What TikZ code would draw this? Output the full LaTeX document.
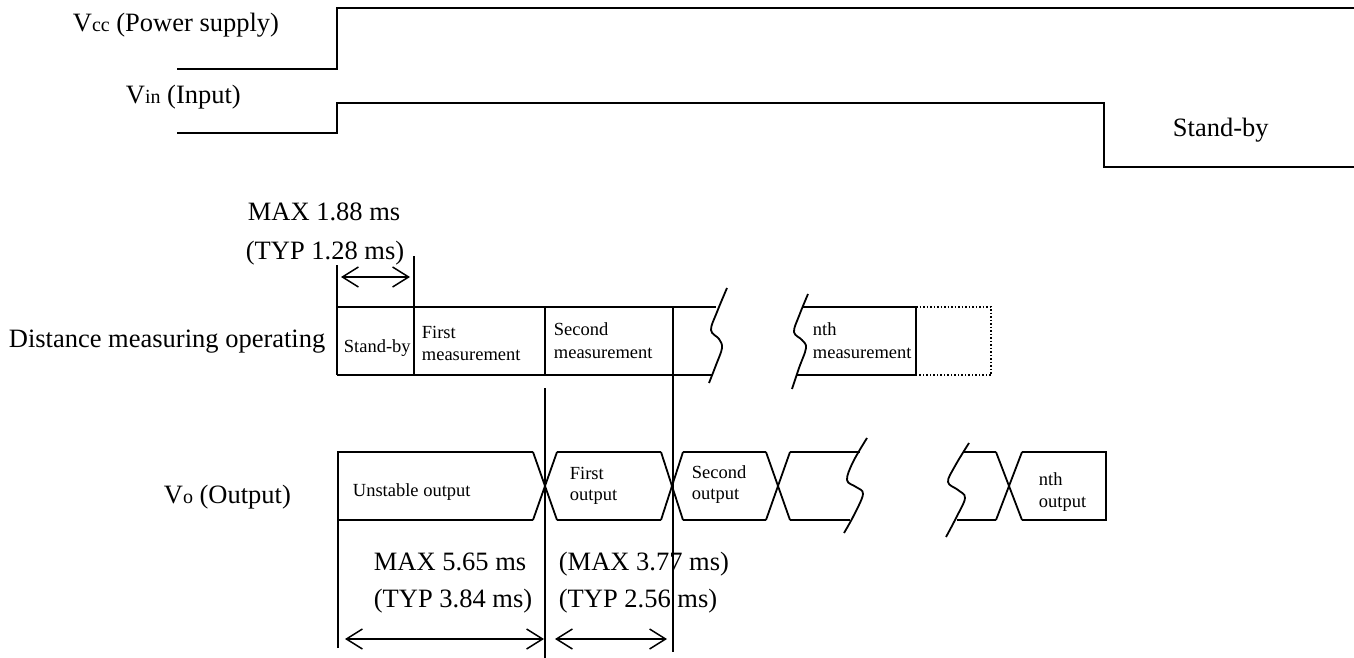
\documentclass[tikz,border=0pt]{standalone}
\usepackage{fontspec}
\setmainfont{Liberation Serif}
\usetikzlibrary{arrows.meta}
\begin{document}
\begin{tikzpicture}[x=1pt,y=-1pt,line width=1.8pt,
  big/.style={anchor=base west,inner sep=0pt,font=\fontsize{26.5}{26.5}\selectfont},
  small/.style={anchor=base west,inner sep=0pt,font=\fontsize{18.5}{18.5}\selectfont},
  tip/.tip={Straight Barb[length=16pt,width=20pt,line width=1.5pt]},
  dimarrow/.style={line width=1.5pt,tip-tip},
  dottedbox/.style={line width=1.5pt,dotted}]
\useasboundingbox (0,0) rectangle (1354,658);
\newcommand{\sml}[1]{{\fontsize{20}{20}\selectfont #1}}
% ---------- labels ----------
\node[big] (vcc) at (72,32) {V\sml{cc} (Power supply)};
\node[big] (vin) at (125,104) {V\sml{in} (Input)};
\node[big] (sb) at (1172,137) {Stand-by};
\node[big] (max1) at (247,220) {MAX 1.88 ms};
\node[big] (typ1) at (245,259) {(TYP 1.28 ms)};
\node[big] (dmo) at (8,347) {Distance measuring operating};
\node[big] (vo) at (163,503) {V\sml{o} (Output)};
\node[big] (max2) at (373,570) {MAX 5.65 ms};
\node[big] (typ2) at (373,607) {(TYP 3.84 ms)};
\node[big] (max3) at (558,570) {(MAX 3.77 ms)};
\node[big] (typ3) at (558,607) {(TYP 2.56 ms)};
% small texts
\node[small] (m0) at (343,352) {Stand-by};
\node[small] (m1a) at (421,338) {First};
\node[small] (m1b) at (421,360) {measurement};
\node[small] (m2a) at (553,335) {Second};
\node[small] (m2b) at (553,358) {measurement};
\node[small] (mna) at (812,335) {nth};
\node[small] (mnb) at (812,358) {measurement};
\node[small] (o0) at (352,496) {Unstable output};
\node[small] (o1a) at (569,479) {First};
\node[small] (o1b) at (569,500) {output};
\node[small] (o2a) at (691,478) {Second};
\node[small] (o2b) at (691,499) {output};
\node[small] (ona) at (1038,485) {nth};
\node[small] (onb) at (1038,507) {output};
% ---------- Vcc / Vin ----------
\draw (177,69) -- (337,69) -- (337,8) -- (1354,8);
\draw (177,133) -- (337,133) -- (337,103) -- (1104,103) -- (1104,167) -- (1354,167);
% ---------- distance measuring ----------
\draw (337,265) -- (337,375);
\draw (414,256) -- (414,375);
\draw (337,307) -- (716,307);
\draw (337,375) -- (712,375);
\draw (545,307) -- (545,375);
\draw (545,388) -- (545,658);
\draw (673,307) -- (673,652);
\draw plot[smooth,tension=0.6] coordinates {(727,288) (717,312) (711,330) (719,339) (722,348) (716,365) (709,383)};
\draw plot[smooth,tension=0.6] coordinates {(808,294) (799,316) (794,332) (802,340) (806,348) (799,368) (792,389)};
\draw (803,307) -- (916,307) -- (916,375) -- (797,375);
\draw[dottedbox] (916,307) -- (991,307) -- (991,375) -- (916,375);
% ---------- output ----------
\draw (338,648) -- (338,452) -- (533,452);
\draw (338,520) -- (533,520);
\draw (533,452) -- (557,520) (533,520) -- (557,452);
\draw (557,452) -- (661,452) (557,520) -- (661,520);
\draw (661,452) -- (683,520) (661,520) -- (683,452);
\draw (683,452) -- (766,452) (683,520) -- (766,520);
\draw (766,452) -- (790,520) (766,520) -- (790,452);
\draw (790,452) -- (860,452) (790,520) -- (850,520);
\draw plot[smooth,tension=0.6] coordinates {(867,438) (853,462) (847,480) (856,487) (863,494) (854,515) (844,533)};
\draw plot[smooth,tension=0.6] coordinates {(969,443) (955,466) (948,482) (958,490) (965,498) (956,518) (946,537)};
\draw (963,452) -- (996,452) (957,520) -- (996,520);
\draw (996,452) -- (1022,520) (996,520) -- (1022,452);
\draw (1022,452) -- (1106,452) -- (1106,520) -- (1022,520);
% ---------- dimension arrows ----------
\draw[dimarrow] (341,277) -- (410,277);
\draw[dimarrow] (345,639) -- (544,639);
\draw[dimarrow] (555,639) -- (667,639);
\end{tikzpicture}
\end{document}
